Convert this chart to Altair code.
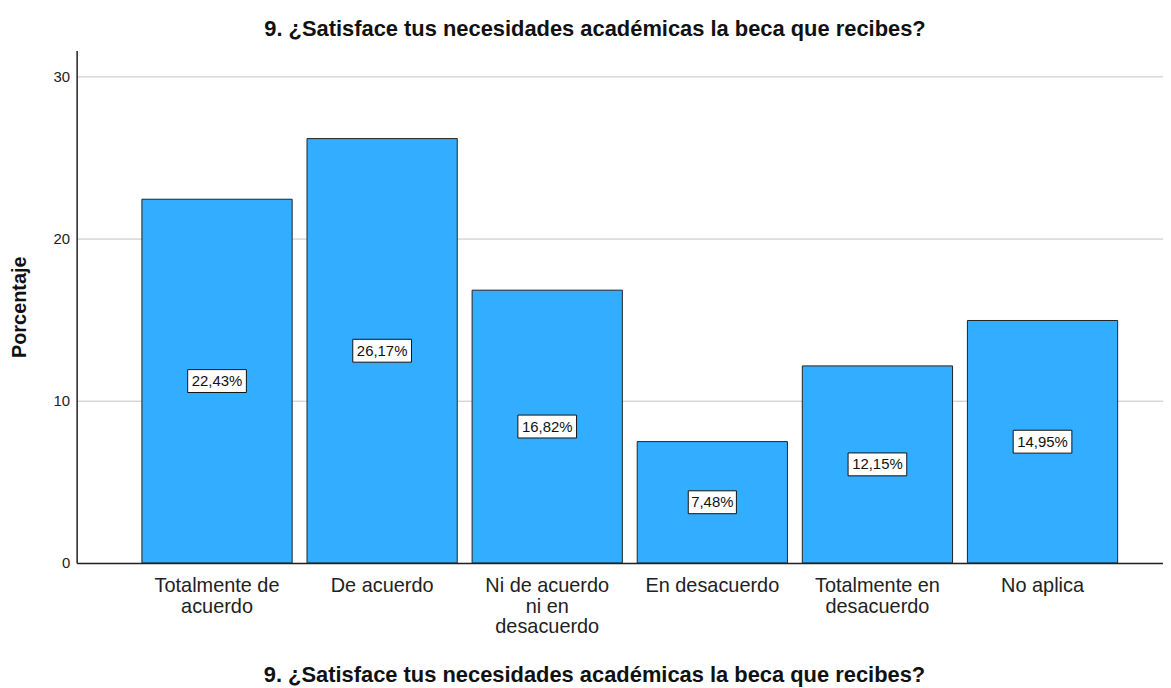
import altair as alt
import pandas as pd

categories = ["Totalmente de\nacuerdo", "De acuerdo", "Ni de acuerdo\nni en\ndesacuerdo",
              "En desacuerdo", "Totalmente en\ndesacuerdo", "No aplica"]
values = [22.43, 26.17, 16.82, 7.48, 12.15, 14.95]
y_ticks = [0, 10, 20, 30]
title_text = "9. ¿Satisface tus necesidades académicas la beca que recibes?"

df = pd.DataFrame({"cat": categories, "v": values})

FONT = "Liberation Sans"

x_enc = alt.X("cat:N", sort=categories,
              scale=alt.Scale(paddingInner=0.09, paddingOuter=0.335, align=0.59),
              axis=alt.Axis(title=title_text, labelExpr="split(datum.label, '\\n')",
                            labelAngle=0, labelFont=FONT, labelFontSize=20,
                            labelColor="#222222", labelPadding=13, labelLineHeight=20.5,
                            ticks=False, domainColor="#222222", domainWidth=1.5,
                            titleFont=FONT, titleFontSize=22, titleFontWeight="bold",
                            titleColor="#111111", titleX=520, titleY=102,
                            titleBaseline="top", grid=False))

base = alt.Chart(df)

bars = base.mark_bar(color="#33adff", stroke="#222222", strokeWidth=1).encode(
    x=x_enc,
    y=alt.Y("v:Q", scale=alt.Scale(domain=[0, 31.6], nice=False),
            axis=alt.Axis(title="Porcentaje", values=y_ticks, ticks=False,
                          labelFont=FONT, labelFontSize=15, labelColor="#222222",
                          labelPadding=7, domainColor="#222222", domainWidth=1.5,
                          gridColor="#c4c4c4", gridWidth=1,
                          titleFont=FONT, titleFontSize=20, titleFontWeight="bold",
                          titleColor="#111111", titleX=-57, titleBaseline="middle")),
)

lab = base.transform_calculate(
    mid="datum.v / 2",
    txt="replace(format(datum.v, '.2f'), '.', ',') + '%'",
    w="length(replace(format(datum.v, '.2f'), '.', ',')) > 4 ? 'wide' : 'narrow'",
)

boxes = lab.mark_point(filled=True, fill="white", stroke="#111111", strokeWidth=1,
                       opacity=1, size=3481).encode(
    x=alt.X("cat:N", sort=categories),
    y=alt.Y("mid:Q"),
    shape=alt.Shape("w:N", legend=None,
                    scale=alt.Scale(domain=["wide", "narrow"],
                                    range=["M-1,-0.39L1,-0.39L1,0.39L-1,0.39Z",
                                           "M-0.82,-0.39L0.82,-0.39L0.82,0.39L-0.82,0.39Z"])),
)

texts = lab.mark_text(font=FONT, fontSize=15, color="#111111").encode(
    x=alt.X("cat:N", sort=categories),
    y=alt.Y("mid:Q"),
    text="txt:N",
)

chart = alt.layer(bars, boxes, texts).properties(
    width=1092, height=515,
    title=alt.TitleParams(title_text, font=FONT, fontSize=22, fontWeight="bold",
                          color="#111111", anchor="middle", dx=-25, offset=10),
    autosize=alt.AutoSizeParams(type="none"),
    padding={"left": 69, "top": 41, "right": 0, "bottom": 124},
).configure_view(stroke=None)

chart.save("out.html", embed_options={"renderer": "svg", "actions": False})
